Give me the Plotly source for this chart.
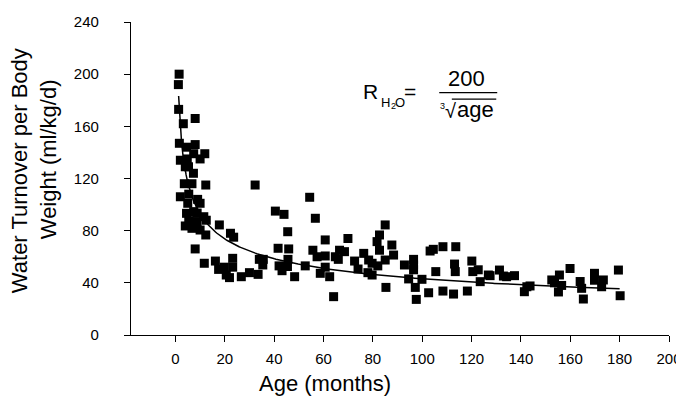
import numpy as np
import plotly.graph_objects as go

# Age (months) and water turnover per body weight (ml/kg/d)
age = [
    1.5, 1.2, 1.3, 8, 3.2, 1.6, 8, 4.5, 11.9, 7.4, 2, 4.8, 10, 4, 5.3, 7.3,
    3.6, 6.7, 12.3, 32.3, 2, 5.4, 9, 5, 10, 7.4, 4.5, 8.8, 11.5, 5.4, 8.8, 4,
    6.7, 10, 12.5, 17.8, 22.3, 23.6, 12.3, 8, 11.7, 16.2, 17.5, 19.8, 23.2,
    23.2, 20.6, 21.9, 26.7, 30, 33.5, 34, 35.6, 35.4, 41.6, 45.9, 45.6, 42,
    43.2, 45.4, 48.3, 40.5, 44, 45.5,
    54.4, 56.7, 55.7, 57.4, 60.7, 60.7, 52.6, 58.7, 60.7, 62.5, 64.1, 64.8,
    66, 66.5, 68.5, 69.9, 72.6, 74, 76.3, 78.3, 79.7, 78, 79.7, 81.7, 82.7,
    85, 82.7, 85, 87.7, 88.4, 82, 85.3, 92.8, 96.5, 96.5, 96.5, 94.5, 97.2,
    97.6, 99.9, 102.6, 103.2, 104.5, 108.4, 105.5, 108.4, 112.7, 113.6,
    113.1, 113.4, 118.3, 120.1, 120.5, 122.7, 123.5, 126.8,
    127.5, 131.3, 132.9, 134.2, 137.4, 141.4, 142.4, 143.7, 152.5, 153.6,
    155.6, 155.2, 156.5, 159.9, 164, 164.6, 165.3, 169.8, 169.8, 173.4,
    172.7, 179.5, 180.2,
]
turnover = [
    200, 192, 173, 166, 162, 147, 146, 144, 139, 139, 134, 135, 135, 129, 129,
    124, 116, 116, 115, 115, 106, 108, 104, 101, 101, 94.6, 93.3, 93.5, 90.7,
    87.7, 87, 83.6, 81.8, 80.5, 88, 84.4, 78, 75, 76.7, 66, 55, 56.7, 50.3,
    52, 58.8, 52, 46, 44, 44.7, 47.8, 46.5, 58, 58, 53.7, 66.5, 66, 58, 53,
    49.3, 52.5, 44.7, 95, 92.5, 79.2,
    105.6, 89.5, 65, 60, 60.6, 72.9, 53, 47.3, 52, 44.7, 29.4, 60, 58, 65,
    63.9, 74, 56.7, 50.6, 62.6, 57.5, 55, 47.8, 46, 71.6, 76.7, 84.4, 65,
    57.5, 69, 61.3, 53, 36.5, 53.7, 58, 53.7, 50, 43, 36.5, 27.3, 42.7, 32.4,
    64.4, 65.7, 67.7, 48.6, 33.7, 31.4, 67.7, 54.4, 48.6, 33.7, 56.7, 48.6,
    50, 40.9, 46,
    45.5, 49.8, 45.2, 44.7, 45.5, 33.2, 37, 37.6, 42.2, 40, 46, 33, 38, 51,
    41, 35.8, 27.6, 47.3, 42, 42.2, 37, 49.8, 30.1,
]

# fitted curve as printed on the chart: R = 200 / cbrt(age)
fit_age = np.linspace(1.3, 180, 300)
fit_r = 200 / np.cbrt(fit_age)

x_ticks = list(range(0, 201, 20))
y_ticks = list(range(0, 241, 40))

FONT = 'Liberation Sans, Arial, Helvetica, sans-serif'

fig = go.Figure()

fig.add_trace(
    go.Scatter(
        x=age, y=turnover, mode='markers',
        marker=dict(symbol='square', size=9, color='black'),
        showlegend=False, cliponaxis=False,
    )
)
fig.add_trace(
    go.Scatter(
        x=fit_age, y=fit_r, mode='lines',
        line=dict(color='black', width=1.5),
        showlegend=False,
    )
)

axis_style = dict(
    showgrid=False, zeroline=False, showline=True, linecolor='black',
    linewidth=1.3, ticks='outside', ticklen=6, tickcolor='black',
    tickwidth=1.3, tickfont=dict(size=15, color='black'), automargin=False,
)
fig.update_xaxes(range=[-18, 200], tickvals=x_ticks, ticklabelstandoff=4,
                 **axis_style)
fig.update_yaxes(range=[0, 240], tickvals=y_ticks, ticklabelstandoff=22,
                 **axis_style)

# axis titles as annotations so they sit where the original puts them
anns = [
    dict(text='Age (months)', x=60.7, y=-0.155, xref='x', yref='paper',
         font=dict(size=22)),
    dict(text='Water Turnover per Body', x=-0.206, y=0.524, xref='paper',
         yref='paper', textangle=-90, font=dict(size=22)),
    dict(text='Weight (ml/kg/d)', x=-0.154, y=0.562, xref='paper',
         yref='paper', textangle=-90, font=dict(size=22)),
    # equation R_H2O = 200 / cbrt(age)
    dict(text='R', x=79, y=186.5, font=dict(size=21)),
    dict(text='H', x=85.2, y=178, font=dict(size=13)),
    dict(text='2', x=88.2, y=175.5, font=dict(size=9)),
    dict(text='O', x=91.2, y=178, font=dict(size=13)),
    dict(text='=', x=95.0, y=187, font=dict(size=21)),
    dict(text='200', x=117.8, y=196.5, font=dict(size=22)),
    dict(text='3', x=108.2, y=175.5, font=dict(size=9)),
    dict(text='√', x=111.4, y=171.5, font=dict(size=20)),
    dict(text='age', x=121.5, y=173, font=dict(size=22)),
]
for a in anns:
    a.setdefault('xref', 'x')
    a.setdefault('yref', 'y')
    fig.add_annotation(showarrow=False, xanchor='center', yanchor='middle',
                       font_color='black', font_family=FONT, **a)

# fraction bar and the bar over "age"
fig.add_shape(type='line', x0=106.9, x1=130.4, y0=185.8, y1=185.8,
              line=dict(color='black', width=1.3))
fig.add_shape(type='line', x0=112.0, x1=130.0, y0=180.9, y1=180.9,
              line=dict(color='black', width=1.2))

# the page adds an 8px body margin, so the figure is 8px smaller each way
fig.update_layout(
    width=676, height=396,
    margin=dict(l=123, r=15, t=14, b=69, autoexpand=False),
    plot_bgcolor='white', paper_bgcolor='white',
    font=dict(family=FONT, color='black'),
)

fig.write_html('out.html')
